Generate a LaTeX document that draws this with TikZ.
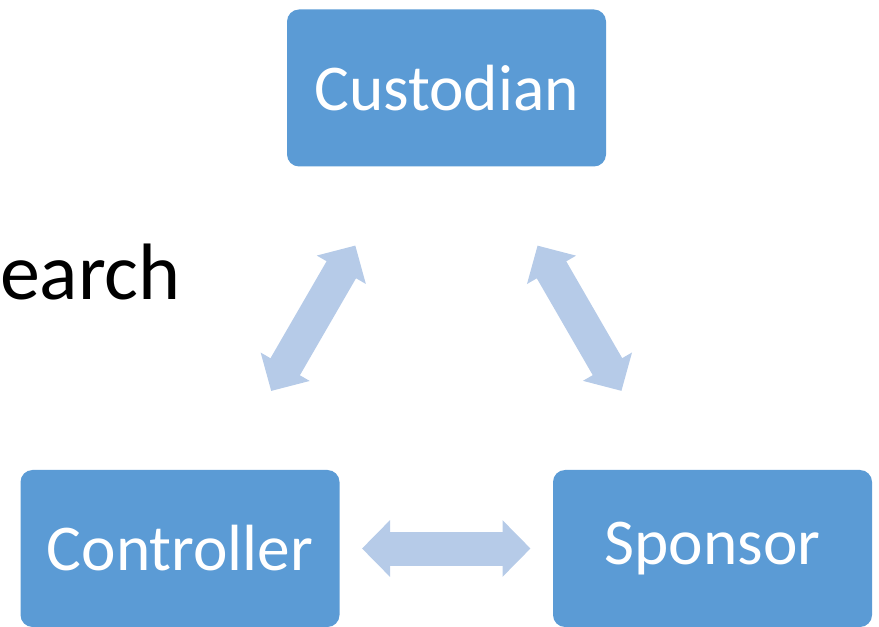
\documentclass[tikz,border=0pt]{standalone}
\usepackage{fontspec}
\setmainfont{Carlito}
\usetikzlibrary{arrows.meta}

\definecolor{boxblue}{RGB}{91,155,213}
\definecolor{linkblue}{RGB}{182,203,232}

\begin{document}
\begin{tikzpicture}[x=0.75pt,y=0.75pt,yscale=-1,xscale=1]
				\tikzset{role/.style={fill=boxblue, rounded corners=9pt, minimum width=239.25pt, minimum height=117.75pt, inner sep=0pt, text=white, font=\fontsize{49}{58}\selectfont},
					link/.style={draw=linkblue, line width=25.5pt, {Triangle[width=41.25pt,length=21pt]}-{Triangle[width=41.25pt,length=21pt]}, shorten <=136.5pt, shorten >=136.5pt}}
				%set diagram to the size of the slide crop
				\useasboundingbox (0,0) rectangle (879,627);

				% Role boxes
				\node [role] (cust) at (446.5,88) {Custodian};
				\node [role] (ctrl) at (180,548.5) {Controller};
				\node [role] (spon) at (712.5,548.5) {Sponsor};

				% Double arrows
				\draw [link] (cust.center) -- (ctrl.center);
				\draw [link] (cust.center) -- (spon.center);
				\draw [link] (ctrl.center) -- (spon.center);

				% Text Node
				\node [anchor=base east, inner sep=0pt, font=\fontsize{60}{72}\selectfont] (title) at (181,300) {earch};

\end{tikzpicture}
\end{document}
